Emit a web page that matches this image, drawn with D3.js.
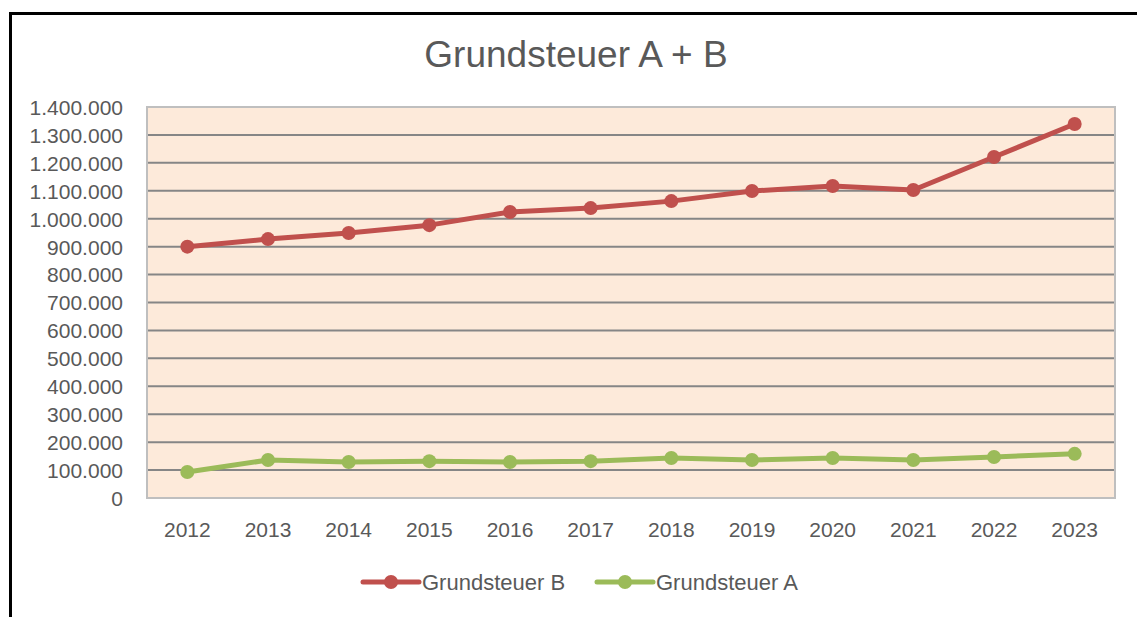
<!DOCTYPE html>
<html>
<head>
<meta charset="utf-8">
<script src="https://cdn.jsdelivr.net/npm/d3@7"></script>
<style>
  body { margin: 0; background: #fff; }
  svg text { font-family: "Liberation Sans", Arial, sans-serif; fill: #595959; }
</style>
</head>
<body>
<svg id="chart" width="1137" height="617"></svg>
<script>
const years = ["2012", "2013", "2014", "2015", "2016", "2017", "2018", "2019", "2020", "2021", "2022", "2023"];
const grundsteuerB = [900000, 927000, 949000, 977000, 1024000, 1038000, 1063000, 1099000, 1117000, 1103000, 1221000, 1339000];
const grundsteuerA = [93000, 136000, 129000, 132000, 129000, 132000, 143000, 136000, 143000, 136000, 147000, 158000];
const yTicks = [0, 100000, 200000, 300000, 400000, 500000, 600000, 700000, 800000, 900000, 1000000, 1100000, 1200000, 1300000, 1400000];

const series = [
  { name: "Grundsteuer B", color: "#C0504D", values: grundsteuerB },
  { name: "Grundsteuer A", color: "#9BBB59", values: grundsteuerA }
];

const svg = d3.select("#chart");
const margin = { top: 107, right: 22, bottom: 119, left: 147 };
const width = 1137 - margin.left - margin.right;
const height = 617 - margin.top - margin.bottom;

// outer frame (only left and top edges visible in the picture)
svg.append("path")
  .attr("d", "M10.5,617 V13.5 H1137")
  .attr("fill", "none")
  .attr("stroke", "#000")
  .attr("stroke-width", 3);

svg.append("text")
  .attr("x", 576)
  .attr("y", 67)
  .attr("text-anchor", "middle")
  .attr("font-size", "37px")
  .text("Grundsteuer A + B");

const g = svg.append("g")
  .attr("transform", `translate(${margin.left},${margin.top})`);

const x = d3.scaleBand().domain(years).range([0, width]);
const y = d3.scaleLinear().domain([0, 1400000]).range([height, 0]);

g.append("rect")
  .attr("width", width)
  .attr("height", height)
  .attr("fill", "#FDEADA");

g.selectAll(".grid")
  .data(yTicks.filter(d => d > 0 && d < 1400000))
  .enter().append("line")
  .attr("class", "grid")
  .attr("x1", 0)
  .attr("x2", width)
  .attr("y1", d => y(d))
  .attr("y2", d => y(d))
  .attr("stroke", "#868686")
  .attr("stroke-width", 2);

g.append("rect")
  .attr("width", width)
  .attr("height", height)
  .attr("fill", "none")
  .attr("stroke", "#BFBFBF")
  .attr("stroke-width", 2);

const fmt = d3.formatLocale({ decimal: ",", thousands: ".", grouping: [3], currency: ["", "€"] }).format(",d");

const yAxis = g.append("g")
  .call(d3.axisLeft(y).tickValues(yTicks).tickFormat(fmt).tickSize(0).tickPadding(24));
yAxis.select(".domain").remove();
yAxis.selectAll("text").attr("font-size", "21px").attr("fill", "#595959").attr("dy", "0.35em");

const xAxis = g.append("g")
  .attr("transform", `translate(0,${height})`)
  .call(d3.axisBottom(x).tickSize(0).tickPadding(24));
xAxis.select(".domain").remove();
xAxis.selectAll("text").attr("font-size", "21px").attr("fill", "#595959");

const line = d3.line()
  .x((d, i) => x(years[i]) + x.bandwidth() / 2)
  .y(d => y(d));

series.forEach(s => {
  g.append("path")
    .datum(s.values)
    .attr("fill", "none")
    .attr("stroke", s.color)
    .attr("stroke-width", 5)
    .attr("stroke-linejoin", "round")
    .attr("d", line);
  g.selectAll(null)
    .data(s.values)
    .enter().append("circle")
    .attr("cx", (d, i) => x(years[i]) + x.bandwidth() / 2)
    .attr("cy", d => y(d))
    .attr("r", 7)
    .attr("fill", s.color);
});

const legendX = [363, 597];
const legend = svg.selectAll(".legend")
  .data(series)
  .enter().append("g")
  .attr("class", "legend")
  .attr("transform", (d, i) => `translate(${legendX[i]},582)`);

legend.append("line")
  .attr("x1", 0).attr("x2", 56)
  .attr("stroke", d => d.color)
  .attr("stroke-width", 5)
  .attr("stroke-linecap", "round");
legend.append("circle")
  .attr("cx", 28)
  .attr("r", 7)
  .attr("fill", d => d.color);
legend.append("text")
  .attr("x", 59)
  .attr("dy", "0.35em")
  .attr("font-size", "22px")
  .text(d => d.name);
</script>
</body>
</html>
